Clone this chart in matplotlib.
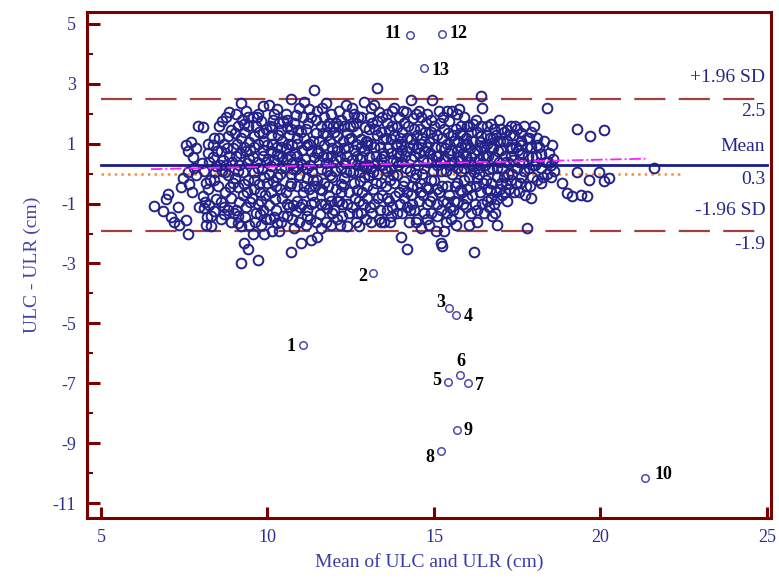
import matplotlib.pyplot as plt
import numpy as np

plt.rcParams['font.family'] = ['Liberation Serif', 'DejaVu Serif']
plt.rcParams['axes.unicode_minus'] = False

# main cloud of points, (mean, difference)
cloud = [
    # 6.5 - 8.0
    (6.6, -1.08), (6.85, -1.25), (6.95, -0.85), (7.0, -0.68), (7.1, -1.45), (7.2, -1.62),
    (7.35, -1.7), (7.4, -0.45), (7.45, -0.15), (7.3, -1.1), (7.55, -1.55), (7.6, -2.0),
    (7.55, 0.95), (7.62, 0.75), (7.7, 1.05), (7.75, 0.55), (7.8, 0.2), (7.65, -0.35),
    (7.72, -0.6), (7.85, -0.05), (7.9, 1.6), (7.95, -1.1), (7.6, 0.05), (7.85, 0.85),
    # 8.0 - 9.0
    (8.05, 1.55), (8.1, -1.15), (8.15, -1.7), (8.2, -0.5), (8.25, 0.4), (8.3, -1.4),
    (8.35, 0.95), (8.4, -0.2), (8.45, -0.85), (8.1, 0.1), (8.2, 0.7), (8.3, -1.75),
    (8.4, 1.2), (8.45, 0.25), (8.05, -0.75), (8.25, -1.05), (8.35, 0.55), (8.15, -0.3),
    (8.55, 1.6), (8.6, -1.5), (8.62, 0.1), (8.7, 1.0), (8.72, -0.6), (8.8, -1.2),
    (8.85, 0.6), (8.9, 1.45), (8.95, -0.3), (8.6, -0.95), (8.65, 0.45), (8.75, 1.9),
    (8.8, -0.05), (8.9, -1.6), (8.95, 0.85), (8.55, 1.2), (8.7, -1.35), (8.85, 2.05),
    (8.6, 0.75), (8.9, -0.8), (8.75, 0.3),
    # 9.0 - 10.0
    (9.05, 2.0), (9.1, -1.4), (9.15, 0.3), (9.2, 1.2), (9.2, 2.35), (9.25, -0.7),
    (9.3, -2.3), (9.3, 0.9), (9.35, -1.1), (9.4, 1.6), (9.4, -0.2), (9.45, -1.7),
    (9.05, 0.6), (9.1, 1.6), (9.15, -0.95), (9.25, 0.05), (9.35, 2.1), (9.45, 0.5),
    (9.2, -1.75), (9.3, 1.4), (9.4, -2.5), (9.2, -3.0), (9.1, -0.45), (9.35, 0.75),
    (9.45, 1.05), (9.05, -1.2),
    (9.55, 1.9), (9.6, -0.5), (9.6, 0.9), (9.65, -1.3), (9.7, 2.0), (9.7, -2.9),
    (9.72, 0.2), (9.75, 1.4), (9.8, -1.7), (9.8, -0.9), (9.85, 0.6), (9.9, 1.1),
    (9.9, -0.1), (9.95, -1.5), (9.55, -2.0), (9.65, 1.6), (9.75, -0.35), (9.85, 2.25),
    (9.95, 0.4), (9.6, 0.05), (9.7, -1.0), (9.8, 1.75), (9.9, -2.0), (9.95, 1.5),
    (9.55, 0.55), (9.85, -1.2),
    # 10.0 - 11.0
    (10.05, 2.3), (10.1, -0.6), (10.1, 1.3), (10.15, -1.9), (10.2, 0.45), (10.2, 2.0),
    (10.25, -1.2), (10.3, 0.9), (10.3, -0.1), (10.35, 1.7), (10.4, -1.6), (10.4, 0.2),
    (10.45, 1.1), (10.45, -0.8), (10.05, 0.0), (10.1, 0.75), (10.15, 1.55), (10.25, -0.4),
    (10.3, 2.15), (10.35, -1.9), (10.4, 1.45), (10.2, -1.45), (10.45, 0.55), (10.05, -1.05),
    (10.35, 0.6), (10.15, 1.0),
    (10.55, 2.0), (10.6, -1.4), (10.6, 0.5), (10.65, 1.3), (10.7, 2.5), (10.7, -2.6),
    (10.72, -0.3), (10.75, 0.95), (10.8, -1.8), (10.8, 1.7), (10.85, 0.15), (10.9, -0.9),
    (10.9, 1.2), (10.95, 2.2), (10.95, -0.05), (10.55, -0.6), (10.65, -1.1), (10.75, 0.35),
    (10.85, 1.95), (10.6, 1.55), (10.75, -1.5), (10.9, 0.6), (10.55, 0.85), (10.85, -1.25),
    (10.7, 0.0), (10.95, -1.6),
    # 11.0 - 12.0
    (11.0, -2.3), (11.05, 0.8), (11.1, 2.4), (11.1, -0.4), (11.15, 1.5), (11.2, -1.2),
    (11.2, 0.2), (11.25, 1.0), (11.3, -2.2), (11.3, 1.9), (11.35, -0.7), (11.4, 2.8),
    (11.4, 0.55), (11.45, -1.6), (11.45, 1.35), (11.05, -1.0), (11.15, -1.7), (11.25, 2.15),
    (11.35, 0.05), (11.1, 1.2), (11.2, -0.15), (11.3, 0.75), (11.4, -0.95), (11.05, 0.3),
    (11.45, 1.8), (11.25, -0.5),
    (11.5, -2.1), (11.55, 0.4), (11.6, 1.6), (11.6, -1.0), (11.65, 2.2), (11.7, -0.3),
    (11.7, 0.95), (11.75, -1.6), (11.8, 1.3), (11.8, 0.1), (11.85, -0.75), (11.9, 2.0),
    (11.9, 0.6), (11.95, -1.3), (11.55, 1.1), (11.65, -0.55), (11.75, 0.35), (11.85, 1.7),
    (11.95, -0.1), (11.6, -1.8), (11.7, 1.9), (11.8, -1.15), (11.95, 0.85), (11.5, -0.2),
    (11.75, 2.35), (11.9, -1.7),
    # 12.0 - 13.0
    (12.0, 1.4), (12.05, -0.5), (12.1, 0.9), (12.1, -1.5), (12.15, 2.1), (12.2, 0.2),
    (12.25, -1.0), (12.3, 1.6), (12.3, -0.15), (12.35, 2.3), (12.4, 0.6), (12.4, -1.75),
    (12.45, 1.15), (12.45, -0.6), (12.05, 0.5), (12.15, -0.9), (12.2, 1.8), (12.25, -1.4),
    (12.35, 0.05), (12.0, -1.2), (12.1, 1.25), (12.3, 0.85), (12.45, -1.3), (12.2, -0.35),
    (12.4, 1.95), (12.05, 1.7),
    (12.55, 2.2), (12.6, -0.3), (12.6, 0.8), (12.65, -1.6), (12.7, 1.4), (12.7, 0.3),
    (12.75, -0.9), (12.8, 1.9), (12.8, -1.3), (12.85, 0.55), (12.9, 2.4), (12.9, -0.1),
    (12.95, 1.1), (12.95, -1.5), (12.55, -1.1), (12.65, 1.7), (12.75, 0.05), (12.85, -0.6),
    (12.6, 2.0), (12.7, -0.55), (12.8, 1.15), (12.9, 0.75), (12.55, 0.45), (12.75, -1.75),
    (12.95, 0.2), (12.65, 1.0),
    # 13.0 - 14.0
    (13.0, -0.8), (13.05, 1.5), (13.1, 0.2), (13.1, 2.2), (13.15, -1.3), (13.2, 0.9),
    (13.25, -0.3), (13.3, 2.85), (13.3, 1.3), (13.35, -1.5), (13.4, 0.5), (13.4, -1.6),
    (13.45, 1.9), (13.45, -0.7), (13.05, -0.05), (13.15, 1.7), (13.2, -1.0), (13.25, 0.6),
    (13.35, 2.05), (13.0, 1.05), (13.1, -1.6), (13.3, 0.0), (13.4, 1.4), (13.45, 0.3),
    (13.2, 2.3), (13.05, 0.55),
    (13.5, -1.6), (13.55, 1.2), (13.6, 0.1), (13.6, 2.0), (13.65, -0.9), (13.7, 0.7),
    (13.7, -1.4), (13.75, 1.6), (13.8, -0.3), (13.8, 2.2), (13.85, 0.4), (13.9, -1.3),
    (13.9, 1.0), (13.95, 1.9), (13.95, -0.6), (13.55, -0.4), (13.65, 1.45), (13.75, -1.1),
    (13.85, 0.95), (13.5, 0.6), (13.7, 0.2), (13.8, 1.3), (13.9, -0.05), (13.6, -1.2),
    (13.95, 0.6), (13.75, 2.1),
    # 14.0 - 15.0
    (14.0, -2.1), (14.05, 0.8), (14.1, 1.7), (14.1, -0.8), (14.15, 0.2), (14.2, -2.5),
    (14.2, 1.2), (14.25, -1.6), (14.3, 2.45), (14.3, 0.5), (14.35, -0.4), (14.4, 1.5),
    (14.4, -1.2), (14.45, 2.0), (14.45, 0.0), (14.05, -1.3), (14.15, 2.05), (14.25, 0.9),
    (14.35, -1.0), (14.0, 0.4), (14.1, -0.25), (14.3, 1.15), (14.4, 0.6), (14.2, -0.6),
    (14.45, -1.6), (14.05, 1.4),
    (14.5, -1.5), (14.55, 0.7), (14.6, 1.9), (14.6, -0.6), (14.65, 1.2), (14.7, -1.3),
    (14.7, 0.2), (14.75, 1.7), (14.8, -1.0), (14.8, 0.9), (14.85, -1.7), (14.9, 1.4),
    (14.9, -0.2), (14.95, 2.45), (14.95, 0.5), (14.55, -0.9), (14.65, 0.0), (14.75, -0.45),
    (14.85, 1.05), (14.5, 1.3), (14.6, -1.8), (14.7, 0.75), (14.8, 2.0), (14.9, -1.3),
    (14.55, 2.1), (14.95, -0.75),
    # 15.0 - 16.0
    (15.0, 1.6), (15.05, -1.9), (15.1, 0.3), (15.1, -1.0), (15.15, 2.1), (15.2, -2.3),
    (15.2, 0.9), (15.25, -0.4), (15.3, -1.9), (15.3, 1.5), (15.35, 0.1), (15.4, 2.1),
    (15.4, -1.3), (15.45, 0.7), (15.45, -0.7), (15.25, -2.4), (15.05, 0.6), (15.15, -0.6),
    (15.25, 1.2), (15.35, -1.6), (15.0, -0.2), (15.1, 1.3), (15.3, 0.5), (15.4, 1.0),
    (15.2, -1.2), (15.45, 1.75),
    (15.5, -1.5), (15.55, 2.1), (15.6, 0.4), (15.6, -0.9), (15.65, 1.5), (15.7, -0.3),
    (15.7, 2.0), (15.75, -1.3), (15.8, 0.9), (15.8, 1.6), (15.85, -0.6), (15.9, 0.2),
    (15.9, 1.9), (15.95, -1.1), (15.95, 1.2), (15.55, 0.0), (15.65, -1.7), (15.75, 0.55),
    (15.85, 1.3), (15.5, 0.8), (15.7, -0.95), (15.8, 0.1), (15.9, -0.2), (15.6, 1.1),
    (15.95, 0.6), (15.75, 2.15),
    # 16.0 - 17.0
    (16.0, -0.8), (16.05, 1.6), (16.1, 0.3), (16.1, -1.3), (16.15, 1.1), (16.2, -2.6),
    (16.2, 0.7), (16.25, -0.4), (16.3, 1.4), (16.3, -1.2), (16.35, 0.0), (16.4, 2.6),
    (16.4, 0.9), (16.45, -1.0), (16.45, 2.2), (16.05, -0.1), (16.15, -0.7), (16.25, 1.8),
    (16.35, 0.5), (16.0, 1.0), (16.1, 0.55), (16.3, -1.6), (16.4, 1.25), (16.2, 0.05),
    (16.45, 0.35), (16.05, -1.7),
    (16.5, -1.3), (16.55, 0.6), (16.6, 1.3), (16.6, -0.5), (16.65, -1.1), (16.7, 0.9),
    (16.75, 0.2), (16.75, -1.4), (16.8, 1.5), (16.85, -0.6), (16.9, 1.1), (16.9, -1.7),
    (16.95, 0.4), (16.95, 1.8), (16.55, -0.2), (16.65, 0.15), (16.7, -0.8), (16.8, 0.55),
    (16.85, 1.3), (16.6, 1.0), (16.9, -0.1), (16.7, 1.65), (16.5, 0.9), (16.8, -1.0),
    # 17.0 - 18.6
    (17.0, 0.8), (17.05, -0.7), (17.1, 1.4), (17.1, -0.1), (17.15, 0.4), (17.2, 1.1),
    (17.25, -0.5), (17.3, 0.6), (17.3, 1.6), (17.35, 0.0), (17.4, 1.3), (17.45, -0.3),
    (17.45, 0.9), (17.05, 0.2), (17.15, -0.35), (17.2, 1.45), (17.25, 0.35), (17.35, 0.85),
    (17.4, -0.6), (17.0, 1.5),
    (17.5, 1.5), (17.55, 0.4), (17.6, -0.1), (17.6, 1.1), (17.65, 0.7), (17.7, 1.6),
    (17.75, -0.4), (17.8, 0.9), (17.8, -1.8), (17.85, 0.2), (17.9, 1.4), (17.9, -0.8),
    (17.95, 0.55), (17.55, -0.6), (17.7, 0.1), (17.85, 1.2), (17.6, 0.95), (17.95, -0.1),
    (18.0, 1.6), (18.05, 0.6), (18.1, -0.2), (18.15, 0.9), (18.2, 0.2), (18.3, 1.1),
    (18.35, 0.4), (18.4, 2.2), (18.4, 0.0), (18.45, 0.7), (18.5, 0.3), (18.55, 0.95),
    (18.6, 0.1), (18.2, -0.3), (18.1, 1.2), (18.5, -0.1),
    # sparse right side
    (18.85, -0.3), (19.0, -0.65), (19.15, -0.75), (19.3, 1.5), (19.3, 0.05), (19.4, -0.7),
    (19.6, -0.75), (19.7, 1.25), (19.65, -0.2), (19.95, 0.05), (20.1, 1.45), (20.1, -0.25),
    (20.25, -0.15), (21.6, 0.2),
]

# the cloud is heavily overplotted: these fill the gaps between the points above
cloud_fill = [
    (8.02, 0.35), (8.12, -0.95), (8.22, 1.0), (8.28, -0.2), (8.38, -1.25), (8.48, 0.75),
    (8.18, -1.45), (8.42, 0.05),
    (8.52, -0.4), (8.58, 0.3), (8.68, -1.1), (8.78, 0.85), (8.82, 1.25), (8.88, -0.45),
    (8.98, -1.3), (8.62, 1.75), (8.72, 0.05), (8.92, 0.4),
    (9.02, -0.15), (9.08, 1.0), (9.12, -1.65), (9.18, 0.7), (9.22, 1.8), (9.28, -0.35),
    (9.32, -1.45), (9.38, 0.35), (9.42, 1.9), (9.48, -0.95), (9.12, 0.1), (9.28, 1.65),
    (9.38, -0.6), (9.48, 0.8), (9.02, 1.35),
    (9.52, -0.8), (9.58, 1.25), (9.62, -1.6), (9.68, 0.4), (9.72, 1.0), (9.78, -0.6),
    (9.82, 0.15), (9.88, 1.35), (9.92, -0.7), (9.98, 0.95), (9.58, -0.2), (9.68, 1.9),
    (9.78, -1.35), (9.88, 0.8), (9.98, -0.3),
    (10.02, 0.5), (10.08, -1.5), (10.12, 0.25), (10.18, 1.8), (10.22, -0.85), (10.28, 0.65),
    (10.32, 1.3), (10.38, -0.5), (10.42, 0.9), (10.48, -1.4), (10.08, 1.6), (10.18, -0.25),
    (10.28, -1.65), (10.38, 0.0), (10.48, 1.75),
    (10.52, 0.2), (10.58, -1.0), (10.62, 1.0), (10.68, -0.4), (10.72, 1.5), (10.78, -1.05),
    (10.82, 0.7), (10.88, -0.4), (10.92, 1.45), (10.98, 0.35), (10.58, 1.8), (10.68, 0.6),
    (10.78, 0.15), (10.88, 1.0), (10.98, -1.1),
    (11.02, 1.4), (11.08, -0.6), (11.12, 0.5), (11.18, -1.4), (11.22, 1.7), (11.28, 0.3),
    (11.32, -1.0), (11.38, 1.1), (11.42, -0.4), (11.48, 0.7), (11.08, 1.9), (11.18, 0.95),
    (11.28, -1.5), (11.38, -0.2), (11.48, 2.1),
    (11.52, 0.75), (11.58, -0.5), (11.62, 0.15), (11.68, 1.35), (11.72, -1.0), (11.78, 0.55),
    (11.82, -0.4), (11.88, 1.1), (11.92, -0.9), (11.98, 1.6), (11.58, -1.35), (11.68, 0.6),
    (11.78, 1.6), (11.88, -0.05), (11.98, 0.4),
    (12.02, 0.1), (12.08, -0.9), (12.12, 1.6), (12.18, 0.55), (12.22, -0.6), (12.28, 1.1),
    (12.32, 0.35), (12.38, -1.0), (12.42, 0.9), (12.48, 1.6), (12.08, 0.75), (12.18, -1.7),
    (12.28, -0.4), (12.38, 1.35), (12.48, 0.1),
    (12.52, 1.2), (12.58, 0.05), (12.62, -0.8), (12.68, 0.6), (12.72, 1.9), (12.78, -0.25),
    (12.82, 0.9), (12.88, -1.0), (12.92, 1.55), (12.98, -0.4), (12.58, 1.6), (12.68, -1.3),
    (12.78, 0.5), (12.88, 0.25), (12.98, 0.95),
    (13.02, 0.3), (13.08, -1.1), (13.12, 1.0), (13.18, -0.5), (13.22, 1.5), (13.28, 0.35),
    (13.32, -0.8), (13.38, 0.9), (13.42, -0.3), (13.48, 1.15), (13.08, 1.9), (13.18, 0.05),
    (13.28, 1.75), (13.38, -1.2), (13.48, 0.7),
    (13.52, 0.2), (13.58, -0.8), (13.62, 0.85), (13.68, -0.2), (13.72, 1.15), (13.78, 0.45),
    (13.82, -0.75), (13.88, 1.55), (13.92, 0.3), (13.98, -1.0), (13.58, 1.7), (13.68, -1.6),
    (13.78, -0.05), (13.88, 0.7), (13.98, 1.2),
    (14.02, 1.0), (14.08, -0.4), (14.12, 0.6), (14.18, -1.1), (14.22, 1.6), (14.28, 0.1),
    (14.32, -0.7), (14.38, 0.95), (14.42, -0.15), (14.48, 0.85), (14.08, 2.1), (14.18, 0.75),
    (14.28, -1.2), (14.38, 1.85), (14.48, -0.45),
    (14.52, 0.3), (14.58, -0.3), (14.62, 1.0), (14.68, -0.7), (14.72, 1.4), (14.78, 0.4),
    (14.82, -0.5), (14.88, 0.7), (14.92, 1.8), (14.98, 0.1), (14.58, 1.5), (14.68, 0.45),
    (14.78, -1.5), (14.88, -0.9), (14.98, 1.2),
    (15.02, 0.9), (15.08, -0.5), (15.12, 0.6), (15.18, 1.7), (15.22, 0.1), (15.28, -0.9),
    (15.32, 0.85), (15.38, -0.4), (15.42, 1.35), (15.48, 0.3), (15.08, -1.4), (15.18, 0.4),
    (15.28, 1.9), (15.38, -0.95), (15.48, -1.1),
    (15.52, 0.35), (15.58, 1.3), (15.62, -0.4), (15.68, 0.75), (15.72, 1.1), (15.78, -0.55),
    (15.82, 0.45), (15.88, -1.0), (15.92, 0.95), (15.98, -0.5), (15.58, -1.2), (15.68, 0.2),
    (15.78, 1.35), (15.88, 0.7), (15.98, 1.6),
    (16.02, 0.4), (16.08, -0.45), (16.12, 1.4), (16.18, 0.25), (16.22, -1.0), (16.28, 0.8),
    (16.32, 0.2), (16.38, -0.6), (16.42, 1.6), (16.48, 0.6), (16.08, 0.85), (16.18, 1.65),
    (16.28, -0.15), (16.38, 1.05), (16.48, -0.3),
    (16.52, 0.3), (16.58, -0.9), (16.62, 0.6), (16.68, 1.2), (16.72, -0.3), (16.78, 0.85),
    (16.82, -1.3), (16.88, 0.2), (16.92, 0.75), (16.98, -0.5), (16.58, 1.6), (16.68, -0.55),
    (16.78, 1.2), (16.88, -0.85), (16.98, 1.1),
    (17.02, -0.3), (17.08, 1.1), (17.12, 0.6), (17.18, -0.9), (17.22, 0.0), (17.28, 1.3),
    (17.32, -0.2), (17.38, 0.45), (17.42, 1.6), (17.48, 0.2), (17.12, -0.6), (17.28, 0.9),
    (17.52, 0.8), (17.58, -0.3), (17.62, 1.35), (17.68, 0.35), (17.72, -0.7), (17.78, 1.2),
    (17.82, 0.6), (17.88, -0.4), (17.92, 0.9), (17.98, 0.3),
    (18.02, 0.3), (18.08, 0.95), (18.22, 0.65), (18.28, -0.1), (18.42, 0.4), (18.58, 0.5),
]

cloud_x = [p[0] for p in cloud + cloud_fill]
cloud_y = [p[1] for p in cloud + cloud_fill]

# numbered outliers
out_id = ['1', '2', '3', '4', '5', '6', '7', '8', '9', '10', '11', '12', '13']
out_x = [11.07, 13.17, 15.45, 15.66, 15.42, 15.78, 16.02, 15.21, 15.69, 21.34, 14.28, 15.24, 14.70]
out_y = [-5.72, -3.32, -4.49, -4.72, -6.96, -6.72, -6.99, -9.26, -8.56, -10.16, 4.63, 4.67, 3.53]
lab_x = [10.71, 12.87, 15.2, 16.02, 15.08, 15.81, 16.38, 14.88, 16.03, 21.89, 13.78, 15.73, 15.2]
lab_y = [-5.77, -3.42, -4.3, -4.78, -6.92, -6.28, -7.09, -9.47, -8.59, -10.06, 4.67, 4.67, 3.44]

mean_diff = 0.3
upper_loa = 2.5
lower_loa = -1.9
reg_x = [6.5, 21.4]
reg_y = [0.15, 0.5]

frame_col = '#7a0000'
navy = '#27278a'

fig = plt.figure(figsize=(7.79, 5.79), dpi=100)
ax = fig.add_axes([0.1117, 0.1054, 0.878, 0.8739])

ax.plot(cloud_x, cloud_y, 'o', mfc='none', mec='#22228a', mew=1.4, ms=7.0, zorder=3)
ax.plot(out_x, out_y, 'o', mfc='none', mec='#4a4ab0', mew=1.1, ms=5.4, zorder=3)

ax.plot([5, 25], [mean_diff, mean_diff], '-', color='#1c1c85', lw=2.0, zorder=4)
ax.plot([5, 25], [upper_loa, upper_loa], color='#a04040', lw=1.6, dashes=(14, 6), zorder=2)
ax.plot([5, 25], [lower_loa, lower_loa], color='#a04040', lw=1.6, dashes=(14, 6), zorder=2)
ax.plot([5, 22.4], [0, 0], ':', color='#ff8c30', lw=1.8, zorder=2)
ax.plot(reg_x, reg_y, '-.', color='#ff20ff', lw=1.3, zorder=4)

for i in range(len(out_id)):
    ax.text(lab_x[i], lab_y[i], out_id[i], fontsize=13, fontweight='bold',
            ha='center', va='center', color='black')

# labels for the lines on the right
side_txt = ['+1.96 SD', '2.5', 'Mean', '0.3', '-1.96 SD', '-1.9']
side_y = [3.2, 2.06, 0.92, -0.21, -1.24, -2.37]
for t, yy in zip(side_txt, side_y):
    ax.text(24.95, yy, t, fontsize=14, ha='right', va='center', color=navy)

ax.set_xlim(4.58, 25.12)
ax.set_ylim(-11.5, 5.4)
ax.set_xticks([5, 10, 15, 20, 25])
ax.set_yticks([5, 3, 1, -1, -3, -5, -7, -9, -11])
ax.set_yticks(np.arange(-10, 5, 2), minor=True)

for s in ax.spines.values():
    s.set_color(frame_col)
    s.set_linewidth(2.2)

ax.tick_params(axis='both', which='major', direction='in', color=frame_col,
               width=2.2, labelsize=13, labelcolor='#2e2e90')
ax.tick_params(axis='y', which='major', length=9, pad=8)
ax.tick_params(axis='x', which='major', length=8, pad=8)
ax.tick_params(axis='y', which='minor', direction='in', color=frame_col, width=1.5, length=4)

ax.set_xlabel('Mean of ULC and ULR (cm)', fontsize=14, color='#3c3ca6', labelpad=5)
ax.set_ylabel('ULC - ULR (cm)', fontsize=14, color='#4444aa', labelpad=8)

plt.savefig('out.png', dpi=100)
